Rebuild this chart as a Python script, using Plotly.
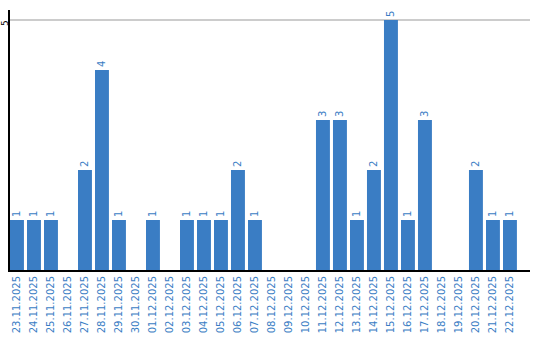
import plotly.graph_objects as go

dates = ["23.11.2025","24.11.2025","25.11.2025","26.11.2025","27.11.2025","28.11.2025","29.11.2025",
         "30.11.2025","01.12.2025","02.12.2025","03.12.2025","04.12.2025","05.12.2025","06.12.2025",
         "07.12.2025","08.12.2025","09.12.2025","10.12.2025","11.12.2025","12.12.2025","13.12.2025",
         "14.12.2025","15.12.2025","16.12.2025","17.12.2025","18.12.2025","19.12.2025","20.12.2025",
         "21.12.2025","22.12.2025"]
counts = [1,1,1,0,2,4,1,0,1,0,1,1,1,2,1,0,0,0,3,3,1,2,5,1,3,0,0,2,1,1]
y_tick = 5

blue = "#3a7dc4"
labels = [str(v) if v > 0 else "" for v in counts]

fig = go.Figure(go.Bar(
    x=dates, y=counts, marker=dict(color=blue, line=dict(width=0)),
    width=0.82, text=labels, textposition="outside", textangle=-90,
    textfont=dict(color=blue, size=10, family="DejaVu Sans"), cliponaxis=False,
))
fig.update_layout(
    width=540, height=340, margin=dict(l=10, r=10, t=10, b=70),
    paper_bgcolor="white", plot_bgcolor="white", showlegend=False,
    font=dict(family="DejaVu Sans", size=10),
    annotations=[dict(text=str(y_tick), xref="paper", x=0, xanchor="center", xshift=-5,
                      yref="y", y=y_tick, yanchor="middle", yshift=-3, textangle=-90, showarrow=False,
                      borderpad=0, font=dict(color="black", size=9, family="DejaVu Sans"))],
)
fig.update_xaxes(type="category", range=[-0.41, 30.18], tickangle=-90, automargin=False,
                 tickfont=dict(color=blue, size=10, family="DejaVu Sans"),
                 showline=True, linecolor="black", linewidth=2, showgrid=False, ticks="")
fig.update_yaxes(range=[0, 5.2], tickvals=[y_tick], showticklabels=False, automargin=False,
                 showline=True, linecolor="black",
                 linewidth=2, showgrid=True, gridcolor="#cccccc", gridwidth=1.5, zeroline=False, ticks="")
fig.write_html("out.html")
